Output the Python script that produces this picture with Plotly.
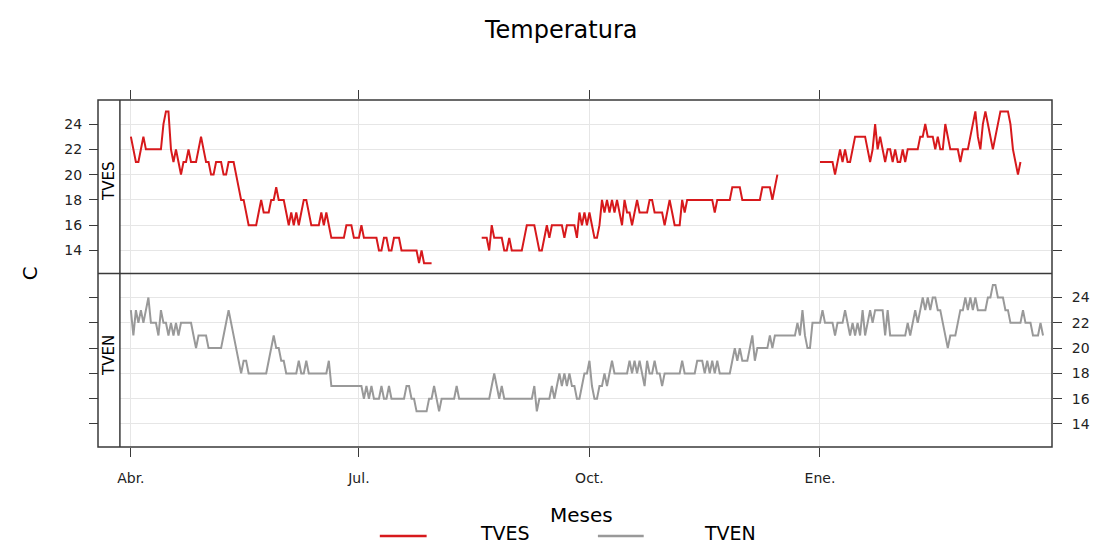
import plotly.graph_objects as go
import pandas as pd

# ---------------- data (daily values, Apr-2013 .. Mar-2014) ----------------
start_date = "2013-04-01"

tves_seg1 = [23,22,21,21,22,23,22,22,22,22,
             22,22,22,24,25,25,22,21,22,21,
             20,21,21,22,21,21,21,22,23,22,
             21,21,20,20,21,21,21,20,20,21,
             21,21,20,19,18,18,17,16,16,16,
             16,17,18,17,17,17,18,18,19,18,
             18,18,17,16,17,16,17,16,17,18,
             18,17,16,16,16,16,17,16,17,16,
             15,15,15,15,15,15,16,16,16,15,
             15,15,16,15,15,15,15,15,15,14,
             14,15,15,14,14,15,15,15,14,14,
             14,14,14,14,14,13,14,13,13,13,
             13]
tves_gap1 = 19
tves_seg2 = [15,15,15,14,16,15,15,15,15,14,
             14,15,14,14,14,14,14,15,16,16,
             16,16,15,14,14,15,16,15,16,16,
             16,16,16,15,16,16,16,16,15,17,
             16,17,16,17,16,15,15,16,18,17,
             18,17,18,17,18,17,16,18,17,17,
             16,17,18,17,17,17,17,18,18,17,
             17,17,17,16,17,18,17,16,16,16,
             18,17,18,18,18,18,18,18,18,18,
             18,18,18,17,18,18,18,18,18,18,
             19,19,19,19,18,18,18,18,18,18,
             18,18,19,19,19,19,18,19,20]
tves_gap2 = 16
tves_seg3 = [21,21,21,21,21,21,20,21,22,21,
             22,21,21,22,23,23,23,23,23,22,
             21,22,24,22,23,22,21,22,22,21,
             22,21,21,22,21,22,22,22,22,22,
             23,23,24,23,23,23,22,23,22,22,
             24,23,22,22,22,22,21,22,22,22,
             23,24,25,23,22,24,25,24,23,22,
             23,24,25,25,25,25,24,22,21,20,
             21]
tves_gap3 = 9

tven = [23,21,23,22,23,22,23,24,22,22,
        22,21,23,22,22,21,22,21,22,21,
        22,22,22,22,22,21,20,21,21,21,
        21,20,20,20,20,20,20,21,22,23,
        22,21,20,19,18,19,19,18,18,18,
        18,18,18,18,18,19,20,21,20,20,
        19,19,18,18,18,18,18,19,18,18,
        19,18,18,18,18,18,18,18,18,19,
        17,17,17,17,17,17,17,17,17,17,
        17,17,17,16,17,16,17,16,16,16,
        17,16,16,17,16,16,16,16,16,16,
        17,17,16,16,15,15,15,15,15,16,
        16,17,16,15,16,16,16,16,16,16,
        17,16,16,16,16,16,16,16,16,16,
        16,16,16,16,17,18,17,16,17,16,
        16,16,16,16,16,16,16,16,16,16,
        16,17,15,16,16,16,16,16,17,16,
        17,18,17,18,17,18,17,17,16,16,
        17,18,18,19,17,16,16,17,17,18,
        17,18,19,18,18,18,18,18,18,19,
        18,19,18,19,18,17,19,18,18,19,
        18,18,17,18,18,18,18,18,18,18,
        19,18,18,18,18,18,19,19,19,18,
        19,18,19,18,19,18,18,18,18,18,
        19,20,19,20,19,19,19,20,21,19,
        20,20,20,20,20,21,20,21,21,21,
        21,21,21,21,21,21,22,21,23,21,
        20,20,22,22,22,22,23,22,22,22,
        22,21,22,22,22,23,22,21,22,21,
        22,21,23,21,22,23,22,23,23,23,
        23,21,23,21,21,21,21,21,21,21,
        22,21,22,23,22,23,24,23,24,23,
        24,24,23,23,22,21,20,21,21,21,
        22,23,23,24,23,24,23,24,23,23,
        23,23,24,24,25,25,24,24,24,23,
        23,22,22,22,22,22,23,22,22,22,
        21,21,21,22,21]

month_ticks = ["2013-04-01", "2013-07-01", "2013-10-01", "2014-01-01"]
month_labels = ["Abr.", "Jul.", "Oct.", "Ene."]
y_ticks = [14, 16, 18, 20, 22, 24]
panel_names = ["TVES", "TVEN"]

tves = (tves_seg1 + [None] * tves_gap1 + tves_seg2 + [None] * tves_gap2
        + tves_seg3 + [None] * tves_gap3)
dates_tves = pd.date_range(start_date, periods=len(tves), freq="D")
dates_tven = pd.date_range(start_date, periods=len(tven), freq="D")

# ---------------- styling ----------------
RED = "#D7191C"
GRAY = "#999999"
GRID = "#E6E6E6"
FRAME = "#3a3a3a"
FONT = "DejaVu Sans, Liberation Sans, Arial, sans-serif"

OFF = 8                      # page body margin of the html page
W, H = 1102 - OFF, 546 - OFF
L, T = 98 - OFF, 100 - OFF   # plot frame (screen) starts at x=98, y=100
R, B = 46, 99
pw = W - L - R
ph = H - T - B
strip_w = 22
xdom0 = strip_w / pw

x_range = ["2013-03-27 15:00", "2014-04-03 14:00"]
y_range = [12.18, 25.9]


def px_x(px):               # screen pixel -> paper coordinate
    return (px - OFF - L) / pw


def px_y(py):
    return (H - B - (py - OFF)) / ph


fig = go.Figure()
fig.add_trace(go.Scatter(x=dates_tves, y=tves, mode="lines",
                         line=dict(color=RED, width=2),
                         xaxis="x", yaxis="y", showlegend=False, name="TVES"))
fig.add_trace(go.Scatter(x=dates_tven, y=tven, mode="lines",
                         line=dict(color=GRAY, width=2),
                         xaxis="x2", yaxis="y2", showlegend=False, name="TVEN"))
# helper traces so the mirrored tick axes get drawn
fig.add_trace(go.Scatter(x=[dates_tven[0]], y=[None], xaxis="x", yaxis="y3",
                         showlegend=False, hoverinfo="skip"))
fig.add_trace(go.Scatter(x=[dates_tven[0]], y=[None], xaxis="x2", yaxis="y4",
                         showlegend=False, hoverinfo="skip"))

tick_common = dict(ticks="outside", ticklen=9, tickwidth=1, tickcolor=FRAME,
                   tickfont=dict(family=FONT, size=14, color="#222"),
                   zeroline=False, showline=False)

fig.update_layout(
    width=W, height=H,
    margin=dict(l=L, r=R, t=T, b=B, pad=0),
    paper_bgcolor="white", plot_bgcolor="white",
    showlegend=False,
    xaxis=dict(domain=[xdom0, 1], anchor="y", side="top", range=x_range,
               tickvals=month_ticks, ticktext=month_labels,
               showticklabels=False, showgrid=True, gridcolor=GRID,
               **tick_common),
    xaxis2=dict(domain=[xdom0, 1], anchor="y2", side="bottom", range=x_range,
                tickvals=month_ticks, ticktext=month_labels,
                showticklabels=True, showgrid=True, gridcolor=GRID,
                ticklabelstandoff=9, **tick_common),
    yaxis=dict(domain=[0.5, 1], anchor="free", position=0, side="left",
               range=y_range, tickvals=y_ticks, showgrid=True, gridcolor=GRID,
               ticklabelstandoff=4, **tick_common),
    yaxis3=dict(domain=[0.5, 1], overlaying="y", anchor="x", side="right",
                range=y_range, tickvals=y_ticks, showticklabels=False,
                showgrid=False, **tick_common),
    yaxis2=dict(domain=[0, 0.5], anchor="x2", side="right",
                range=y_range, tickvals=y_ticks, showgrid=True, gridcolor=GRID,
                ticklabelstandoff=7, **tick_common),
    yaxis4=dict(domain=[0, 0.5], overlaying="y2", anchor="free", position=0,
                side="left", range=y_range, tickvals=y_ticks,
                showticklabels=False, showgrid=False, **tick_common),
)

shapes = [
    dict(type="rect", xref="paper", yref="paper", x0=0, x1=1, y0=0, y1=1,
         line=dict(color=FRAME, width=1.5), layer="above"),
    dict(type="line", xref="paper", yref="paper", x0=xdom0, x1=xdom0, y0=0, y1=1,
         line=dict(color=FRAME, width=1.5), layer="above"),
    dict(type="line", xref="paper", yref="paper", x0=0, x1=1, y0=0.5, y1=0.5,
         line=dict(color=FRAME, width=1.5), layer="above"),
    # custom legend keys
    dict(type="line", xref="paper", yref="paper",
         x0=px_x(381), x1=px_x(428), y0=px_y(536), y1=px_y(536),
         line=dict(color=RED, width=2.5)),
    dict(type="line", xref="paper", yref="paper",
         x0=px_x(600), x1=px_x(646), y0=px_y(536), y1=px_y(536),
         line=dict(color=GRAY, width=2.5)),
]

annotations = [
    dict(text="Temperatura", xref="paper", yref="paper", x=px_x(563), y=px_y(30),
         showarrow=False, font=dict(family=FONT, size=24, color="black"),
         xanchor="center", yanchor="middle"),
    dict(text="Meses", xref="paper", yref="paper", x=px_x(584), y=px_y(515),
         showarrow=False, font=dict(family=FONT, size=20, color="black"),
         xanchor="center", yanchor="middle"),
    dict(text="C", xref="paper", yref="paper", x=px_x(30), y=px_y(273),
         showarrow=False, textangle=-90, font=dict(family=FONT, size=20, color="black"),
         xanchor="center", yanchor="middle"),
    dict(text=panel_names[0], xref="paper", yref="paper", x=xdom0 / 2, y=px_y(181),
         showarrow=False, textangle=-90, font=dict(family=FONT, size=15, color="black"),
         xanchor="center", yanchor="middle"),
    dict(text=panel_names[1], xref="paper", yref="paper", x=xdom0 / 2, y=px_y(355),
         showarrow=False, textangle=-90, font=dict(family=FONT, size=15, color="black"),
         xanchor="center", yanchor="middle"),
    dict(text="TVES", xref="paper", yref="paper", x=px_x(507), y=px_y(533),
         showarrow=False, font=dict(family=FONT, size=19, color="black"),
         xanchor="center", yanchor="middle"),
    dict(text="TVEN", xref="paper", yref="paper", x=px_x(733), y=px_y(533),
         showarrow=False, font=dict(family=FONT, size=19, color="black"),
         xanchor="center", yanchor="middle"),
]

fig.update_layout(shapes=shapes, annotations=annotations)
fig.write_html("out.html")
